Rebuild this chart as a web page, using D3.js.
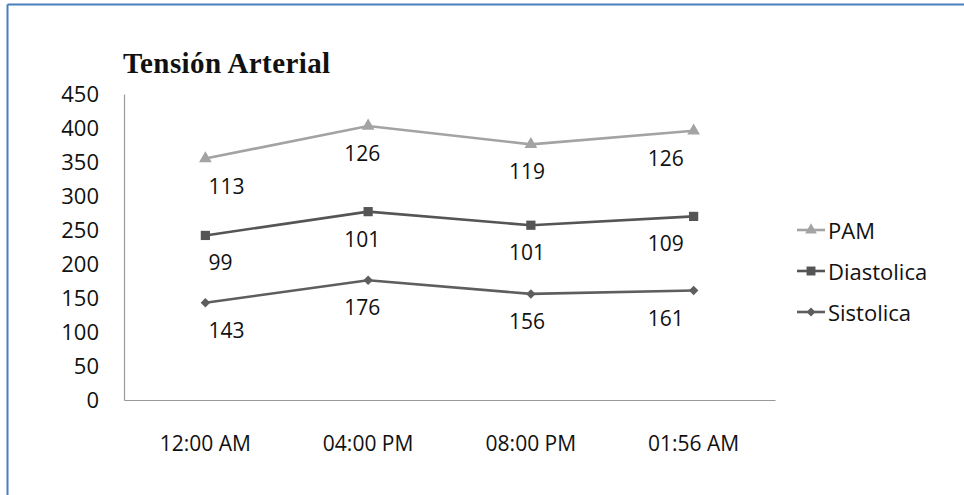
<!DOCTYPE html>
<html><head><meta charset="utf-8">
<script src="https://cdn.jsdelivr.net/npm/d3@7/dist/d3.min.js"></script>
<style>
body{margin:0;background:#fff;}
svg{display:block;}
</style></head>
<body>
<svg id="c" width="964" height="495"></svg>
<script>
const categories = ["12:00 AM", "04:00 PM", "08:00 PM", "01:56 AM"];
const sistolica = [143, 176, 156, 161];
const diastolica = [99, 101, 101, 109];
const pam = [113, 126, 119, 126];
const yTicks = [0, 50, 100, 150, 200, 250, 300, 350, 400, 450];
const seriesNames = ["Sistolica", "Diastolica", "PAM"];
const seriesValues = [sistolica, diastolica, pam];
const seriesColors = ["#5e5e5e", "#555555", "#a3a3a3"];
const seriesShapes = [d3.symbolSquare, d3.symbolSquare, d3.symbolTriangle];
const seriesRot = [45, 0, 0];

// layout constants
const labelDx = [3, -24, -22, -46];
const labelDy = 27;

const svg = d3.select("#c");
const font = "'Open Sans', 'Noto Sans', sans-serif";

// border
svg.append("line").attr("x1", 7.5).attr("x2", 964).attr("y1", 4.5).attr("y2", 4.5)
  .attr("stroke", "#4a7ebb").attr("stroke-width", 2);
svg.append("line").attr("x1", 7.5).attr("x2", 7.5).attr("y1", 4.5).attr("y2", 495)
  .attr("stroke", "#4a7ebb").attr("stroke-width", 2);

const x = d3.scaleBand().domain(categories).range([124, 775]);
const y = d3.scaleLinear().domain([0, 450]).range([400, 94]);

// title
svg.append("text").attr("x", 123).attr("y", 73)
  .attr("font-family", "'Liberation Serif', serif").attr("font-weight", "bold")
  .attr("font-size", 29).attr("letter-spacing", 0.4).attr("fill", "#111").text("Tensión Arterial");

// y axis
const yAxis = d3.axisLeft(y).tickValues(yTicks).tickSize(0).tickPadding(25);
const gy = svg.append("g").attr("transform", "translate(124,0)").call(yAxis);
gy.select(".domain").attr("stroke", "#999").attr("stroke-width", 1.2);
gy.selectAll("text").attr("font-family", font).attr("font-size", 22).attr("fill", "#111");

// x axis
const xAxis = d3.axisBottom(x).tickSize(0).tickPadding(36);
const gx = svg.append("g").attr("transform", "translate(0,400)").call(xAxis);
gx.select(".domain").attr("stroke", "#999").attr("stroke-width", 1.2);
gx.selectAll("text").attr("font-family", font).attr("font-size", 21).attr("fill", "#111");

// stacked values
const stacked = [];
seriesValues.forEach((vals, s) => {
  stacked.push(vals.map((v, i) => (s === 0 ? 0 : stacked[s - 1][i]) + v));
});

const line = d3.line().x((d, i) => x(categories[i]) + x.bandwidth() / 2).y(d => y(d));

seriesValues.forEach((vals, s) => {
  const g = svg.append("g");
  g.append("path").datum(stacked[s]).attr("d", line)
    .attr("fill", "none").attr("stroke", seriesColors[s]).attr("stroke-width", 2.6);
  const sz = s === 0 ? 45 : (s === 1 ? 85 : 70);
  g.selectAll("path.m").data(stacked[s]).enter().append("path").attr("class", "m")
    .attr("d", d3.symbol().type(seriesShapes[s]).size(sz))
    .attr("transform", (d, i) => `translate(${x(categories[i]) + x.bandwidth() / 2},${y(d)}) rotate(${seriesRot[s]})`)
    .attr("fill", seriesColors[s]);
  g.selectAll("text").data(vals).enter().append("text")
    .attr("x", (d, i) => x(categories[i]) + x.bandwidth() / 2 + labelDx[i])
    .attr("y", (d, i) => y(stacked[s][i]) + labelDy)
    .attr("dominant-baseline", "central")
    .attr("font-family", font).attr("font-size", 21).attr("fill", "#111")
    .text(d => d);
});

// legend
const legendOrder = [2, 1, 0];
legendOrder.forEach((s, k) => {
  const ly = 230 + k * 41;
  const g = svg.append("g");
  g.append("line").attr("x1", 797).attr("x2", 825).attr("y1", ly).attr("y2", ly)
    .attr("stroke", seriesColors[s]).attr("stroke-width", 2.6);
  const sz = s === 0 ? 40 : (s === 1 ? 80 : 60);
  g.append("path").attr("d", d3.symbol().type(seriesShapes[s]).size(sz))
    .attr("transform", `translate(811,${ly}) rotate(${seriesRot[s]})`).attr("fill", seriesColors[s]);
  g.append("text").attr("x", 828).attr("y", ly).attr("dominant-baseline", "central")
    .attr("font-family", font).attr("font-size", 22).attr("fill", "#111")
    .text(seriesNames[s]);
});
</script>
</body></html>
